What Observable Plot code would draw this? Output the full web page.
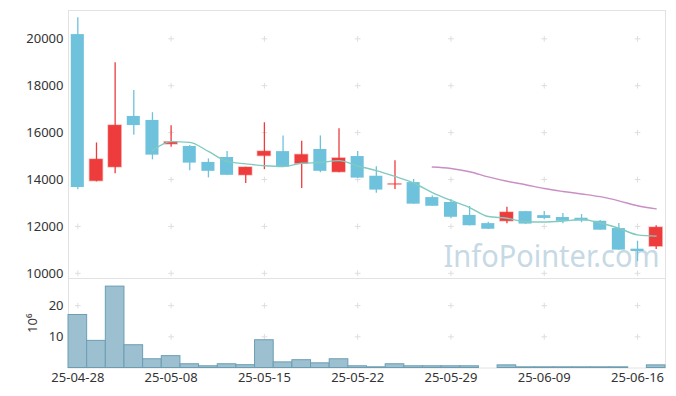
<!DOCTYPE html>
<html><head><meta charset="utf-8">
<script src="https://cdn.jsdelivr.net/npm/d3@7"></script>
<script src="https://cdn.jsdelivr.net/npm/@observablehq/plot@0.6"></script>
<style>
html,body{margin:0;padding:0;background:#fff;}
#chart{width:676px;height:396px;}
#chart svg{display:block;}
</style></head><body><div id="chart"></div>
<script>
const dates = ["2025-04-28","2025-04-29","2025-04-30","2025-05-02","2025-05-07","2025-05-08","2025-05-09","2025-05-12","2025-05-13","2025-05-14","2025-05-15","2025-05-16","2025-05-19","2025-05-20","2025-05-21","2025-05-22","2025-05-23","2025-05-26","2025-05-27","2025-05-28","2025-05-29","2025-05-30","2025-06-02","2025-06-04","2025-06-05","2025-06-09","2025-06-10","2025-06-11","2025-06-12","2025-06-13","2025-06-16","2025-06-17"];
const opens  = [20180,13930,14520,16690,16520,15500,15410,14730,14940,14180,15000,15190,14670,15280,14310,14980,14140,13780,13870,13230,13020,12470,12120,12220,12630,12460,12380,12350,12220,11910,11030,11140];
const highs  = [20900,15560,18980,17800,16850,16290,15450,14880,15190,14520,16420,15860,15630,15860,16160,15200,14540,14800,14000,13300,13150,12850,12180,12820,12640,12640,12550,12510,12250,12120,11370,12030];
const lows   = [13560,13900,14250,15890,14840,15380,14370,14070,14180,13830,14420,14520,13620,14290,14290,14050,13420,13570,12950,12860,12330,12020,11870,12110,12090,12290,12110,12160,11840,10980,10500,11020];
const closes = [13660,14850,16300,16300,15040,15590,14700,14350,14180,14510,15190,14530,15050,14350,14900,14060,13550,13800,12950,12860,12390,12030,11880,12590,12100,12340,12220,12230,11840,10990,10930,11950];
const volumes = [17.0,8.7,26.1,7.3,2.8,3.8,1.2,0.55,1.2,0.9,8.9,1.8,2.5,1.5,2.8,0.55,0.22,1.2,0.55,0.55,0.55,0.55,0,0.85,0.22,0.22,0.22,0.22,0.22,0.22,0,0.85]; // ×10^6
const tickDates  = ["2025-04-28","2025-05-08","2025-05-15","2025-05-22","2025-05-29","2025-06-09","2025-06-16"];
const tickLabels = ["25-04-28","25-05-08","25-05-15","25-05-22","25-05-29","25-06-09","25-06-16"];
const priceTicks = [10000,12000,14000,16000,18000,20000];
const volumeTicks = [10,20];
const watermark = "InfoPointer.com";
const volumeUnit = "10⁶";

const rows = dates.map((date,i)=>({date, open:opens[i], high:highs[i], low:lows[i], close:closes[i], volume:volumes[i]}));
const UP = "#ee3b3b", DOWN = "#6fc2dc";
const color = d => d.close >= d.open ? UP : DOWN;
const W = 676, ML = 68, MR = 11;
const font = 'font-family:"Noto Sans",sans-serif;font-size:13px;color:#333;background:transparent;overflow:visible';
const grid = (xs, ys) => xs.flatMap(x => ys.map(y => ({x, y})));
const FRAME = "#e2e2e2", CROSS = "#dedede";

const price = Plot.plot({
  width: W, height: 278, marginLeft: ML, marginRight: MR, marginTop: 10, marginBottom: 0,
  style: font,
  x: {type: "band", domain: dates, padding: 0, round: false, axis: null},
  y: {domain: [9780, 21207], ticks: priceTicks, tickSize: 0, tickPadding: 5, label: null, tickFormat: d => String(d)},
  color: {type: "identity"},
  marks: [
    Plot.frame({stroke: FRAME}),
    Plot.text([watermark], {frameAnchor: "bottom-right", textAnchor: "end", lineAnchor: "bottom", dx: -6, dy: -12, fontSize: 30, fill: "#c6d9e4", text: d => d, className: "wm"}),
    Plot.dot(grid(tickDates, priceTicks), {x: "x", y: "y", symbol: "plus", r: 2, stroke: CROSS, strokeWidth: 1}),
    Plot.ruleX(rows, {x: "date", y1: "low", y2: "high", stroke: color, strokeWidth: 1.3}),
    Plot.barY(rows, {x: "date", y1: "open", y2: "close", fill: color,
      stroke: d => d.close >= d.open ? "rgba(238,59,59,0.35)" : "none", strokeWidth: 1.5, insetLeft: 2.8, insetRight: 2.8}),
    Plot.lineY(rows, Plot.windowY({k: 5, anchor: "end", strict: true, reduce: "mean"},
      {x: "date", y: "close", stroke: "#7fcbbf", strokeWidth: 1.4, curve: "monotone-x"})),
    Plot.lineY(rows, Plot.windowY({k: 20, anchor: "end", strict: true, reduce: "mean"},
      {x: "date", y: "close", stroke: "#c98fc4", strokeWidth: 1.4, curve: "monotone-x"}))
  ]
});

const vol = Plot.plot({
  width: W, height: 118, marginLeft: ML, marginRight: MR, marginTop: 0, marginBottom: 28.5,
  style: font,
  x: {type: "band", domain: dates, padding: 0, round: false, ticks: tickDates, tickFormat: d => tickLabels[tickDates.indexOf(d)], tickSize: 0, tickPadding: 5, label: null},
  y: {domain: [0, 28.7], ticks: volumeTicks, tickSize: 0, tickPadding: 5, label: volumeUnit, labelAnchor: "center", labelOffset: 41, labelArrow: "none"},
  marks: [
    Plot.frame({stroke: FRAME}),
    Plot.dot(grid(tickDates, volumeTicks), {x: "x", y: "y", symbol: "plus", r: 2, stroke: CROSS, strokeWidth: 1}),
    Plot.barY(rows, {x: "date", y: "volume", fill: "#9cc0cf", stroke: "#6c9db3", strokeWidth: 1})
  ]
});

document.getElementById("chart").append(price, vol);
price.querySelectorAll(".wm text").forEach(t => { t.setAttribute("textLength", "216"); t.setAttribute("lengthAdjust", "spacingAndGlyphs"); });
</script></body></html>
